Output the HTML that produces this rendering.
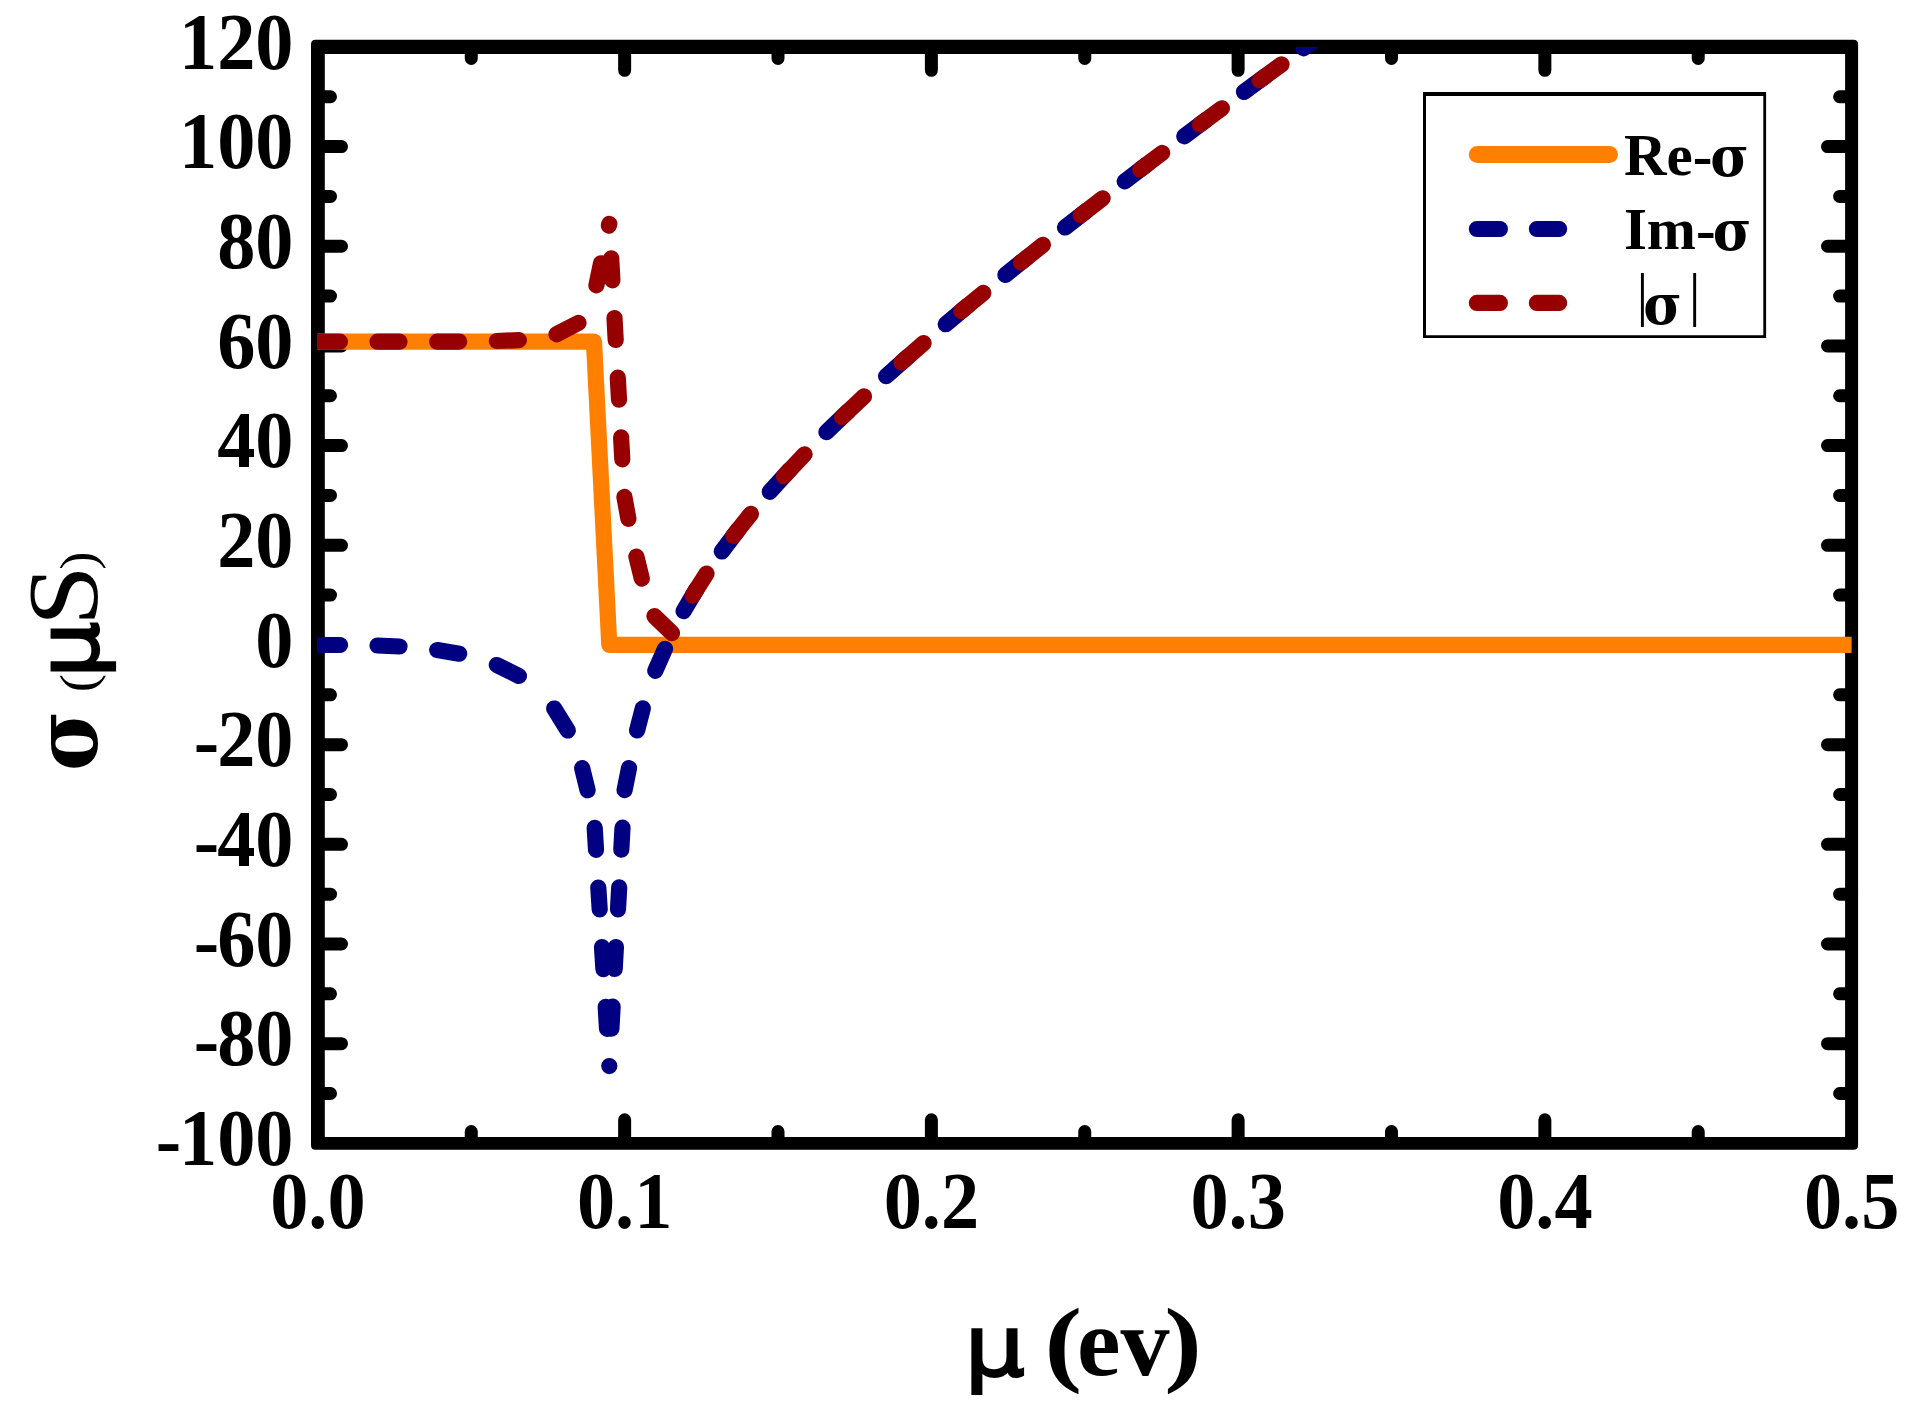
<!DOCTYPE html>
<html><head><meta charset="utf-8"><title>sigma vs mu</title>
<style>html,body{margin:0;padding:0;background:#fff;overflow:hidden}svg{display:block}text{font-family:"Liberation Serif","DejaVu Serif",serif;font-weight:bold;fill:#000}</style></head><body>
<svg width="1929" height="1414" viewBox="0 0 1929 1414">
<rect width="1929" height="1414" fill="#fff"/>
<defs><clipPath id="c"><rect x="317.05" y="47.00" width="1535.95" height="1097.00"/></clipPath></defs>
<path fill="#000" fill-rule="evenodd" d="M315.50 39.85H1853.60Q1858.10 39.85 1858.10 44.35V1145.20Q1858.10 1149.70 1853.60 1149.70H315.50Q311.00 1149.70 311.00 1145.20V44.35Q311.00 39.85 315.50 39.85Z M324.80 53.95H1845.10V1137.00H324.80Z"/>
<path d="M471.27 1142.35V1131.50M471.27 46.90V58.50M624.64 1142.35V1119.80M624.64 46.90V70.30M778.01 1142.35V1131.50M778.01 46.90V58.50M931.38 1142.35V1119.80M931.38 46.90V70.30M1084.75 1142.35V1131.50M1084.75 46.90V58.50M1238.12 1142.35V1119.80M1238.12 46.90V70.30M1391.49 1142.35V1131.50M1391.49 46.90V58.50M1544.86 1142.35V1119.80M1544.86 46.90V70.30M1698.23 1142.35V1131.50M1698.23 46.90V58.50M317.90 1093.51H330.50M1851.60 1093.51H1839.60M317.90 1043.67H341.50M1851.60 1043.67H1827.50M317.90 993.83H330.50M1851.60 993.83H1839.60M317.90 944.00H341.50M1851.60 944.00H1827.50M317.90 894.16H330.50M1851.60 894.16H1839.60M317.90 844.32H341.50M1851.60 844.32H1827.50M317.90 794.48H330.50M1851.60 794.48H1839.60M317.90 744.64H341.50M1851.60 744.64H1827.50M317.90 694.80H330.50M1851.60 694.80H1839.60M317.90 644.96H341.50M1851.60 644.96H1827.50M317.90 595.12H330.50M1851.60 595.12H1839.60M317.90 545.29H341.50M1851.60 545.29H1827.50M317.90 495.45H330.50M1851.60 495.45H1839.60M317.90 445.61H341.50M1851.60 445.61H1827.50M317.90 395.77H330.50M1851.60 395.77H1839.60M317.90 345.93H341.50M1851.60 345.93H1827.50M317.90 296.09H330.50M1851.60 296.09H1839.60M317.90 246.25H341.50M1851.60 246.25H1827.50M317.90 196.42H330.50M1851.60 196.42H1839.60M317.90 146.58H341.50M1851.60 146.58H1827.50M317.90 96.74H330.50M1851.60 96.74H1839.60" stroke="#000" stroke-width="13.00" stroke-linecap="round" fill="none"/>
<text transform="translate(291.5 1165.0) scale(1 1.040)" font-size="76.3" text-anchor="end"><tspan dx="2" dy="1.9">-</tspan><tspan dx="-2" dy="-1.9">100</tspan></text>
<text transform="translate(291.5 1065.4) scale(1 1.040)" font-size="76.3" text-anchor="end"><tspan dx="2" dy="1.9">-</tspan><tspan dx="-2" dy="-1.9">80</tspan></text>
<text transform="translate(291.5 965.7) scale(1 1.040)" font-size="76.3" text-anchor="end"><tspan dx="2" dy="1.9">-</tspan><tspan dx="-2" dy="-1.9">60</tspan></text>
<text transform="translate(291.5 866.0) scale(1 1.040)" font-size="76.3" text-anchor="end"><tspan dx="2" dy="1.9">-</tspan><tspan dx="-2" dy="-1.9">40</tspan></text>
<text transform="translate(291.5 766.3) scale(1 1.040)" font-size="76.3" text-anchor="end"><tspan dx="2" dy="1.9">-</tspan><tspan dx="-2" dy="-1.9">20</tspan></text>
<text transform="translate(293.5 666.7) scale(1 1.040)" font-size="76.3" text-anchor="end">0</text>
<text transform="translate(293.5 567.0) scale(1 1.040)" font-size="76.3" text-anchor="end">20</text>
<text transform="translate(293.5 467.3) scale(1 1.040)" font-size="76.3" text-anchor="end">40</text>
<text transform="translate(293.5 367.6) scale(1 1.040)" font-size="76.3" text-anchor="end">60</text>
<text transform="translate(293.5 268.0) scale(1 1.040)" font-size="76.3" text-anchor="end">80</text>
<text transform="translate(293.5 168.3) scale(1 1.040)" font-size="76.3" text-anchor="end">100</text>
<text transform="translate(293.5 68.6) scale(1 1.040)" font-size="76.3" text-anchor="end">120</text>
<text transform="translate(317.9 1228.4) scale(1 1.040)" font-size="76.3" text-anchor="middle">0.0</text>
<text transform="translate(624.6 1228.4) scale(1 1.040)" font-size="76.3" text-anchor="middle">0.1</text>
<text transform="translate(931.4 1228.4) scale(1 1.040)" font-size="76.3" text-anchor="middle">0.2</text>
<text transform="translate(1238.1 1228.4) scale(1 1.040)" font-size="76.3" text-anchor="middle">0.3</text>
<text transform="translate(1544.9 1228.4) scale(1 1.040)" font-size="76.3" text-anchor="middle">0.4</text>
<text transform="translate(1851.6 1228.4) scale(1 1.040)" font-size="76.3" text-anchor="middle">0.5</text>
<text y="1374.5" font-size="98"><tspan x="964.5" y="1376" font-family="DejaVu Sans,Liberation Sans,sans-serif" font-weight="normal" font-size="85" stroke="#000" stroke-width="2.2" textLength="60.7" lengthAdjust="spacingAndGlyphs">μ</tspan> <tspan x="1044.5" y="1373.6" font-size="94.4" textLength="37.6" lengthAdjust="spacingAndGlyphs">(</tspan><tspan x="1077.1" y="1374.5">ev</tspan><tspan x="1164.2" y="1373.6" font-size="94.4" textLength="37.6" lengthAdjust="spacingAndGlyphs">)</tspan></text>
<text transform="translate(98 645) rotate(-90)" font-size="98"><tspan x="-126" y="-1.2" font-family="DejaVu Serif,Liberation Serif,serif" font-size="88.2" textLength="60.55" lengthAdjust="spacingAndGlyphs">σ</tspan> <tspan x="-47.2" y="-2.8" font-size="50.7" font-weight="normal" textLength="18.2" lengthAdjust="spacingAndGlyphs">(</tspan><tspan x="-32.8" y="0" font-family="DejaVu Sans,Liberation Sans,sans-serif" font-weight="normal" font-size="84" stroke="#000" stroke-width="2.2" textLength="56.25" lengthAdjust="spacingAndGlyphs">μ</tspan><tspan x="18.9" y="-2.4" font-size="100" font-weight="normal" textLength="60.8" lengthAdjust="spacingAndGlyphs">S</tspan><tspan x="75.35" y="-2.8" font-size="50.7" font-weight="normal" textLength="18.2" lengthAdjust="spacingAndGlyphs">)</tspan></text>
<g clip-path="url(#c)" fill="none" stroke-width="16.2" stroke-linejoin="round">
<polyline points="317.90,341.70 333.24,341.70 348.57,341.70 363.91,341.70 379.25,341.70 394.58,341.70 409.92,341.70 425.26,341.70 440.60,341.70 455.93,341.70 471.27,341.70 486.61,341.70 501.94,341.70 517.28,341.70 532.62,341.70 547.95,341.70 563.29,341.70 578.63,341.70 593.97,341.70 609.30,644.96 624.64,644.96 639.98,644.96 655.31,644.96 670.65,644.96 685.99,644.96 701.32,644.96 716.66,644.96 732.00,644.96 747.34,644.96 762.67,644.96 778.01,644.96 793.35,644.96 808.68,644.96 824.02,644.96 839.36,644.96 854.69,644.96 870.03,644.96 885.37,644.96 900.71,644.96 916.04,644.96 931.38,644.96 946.72,644.96 962.05,644.96 977.39,644.96 992.73,644.96 1008.06,644.96 1023.40,644.96 1038.74,644.96 1054.08,644.96 1069.41,644.96 1084.75,644.96 1100.09,644.96 1115.42,644.96 1130.76,644.96 1146.10,644.96 1161.43,644.96 1176.77,644.96 1192.11,644.96 1207.45,644.96 1222.78,644.96 1238.12,644.96 1253.46,644.96 1268.79,644.96 1284.13,644.96 1299.47,644.96 1314.80,644.96 1330.14,644.96 1345.48,644.96 1360.82,644.96 1376.15,644.96 1391.49,644.96 1406.83,644.96 1422.16,644.96 1437.50,644.96 1452.84,644.96 1468.17,644.96 1483.51,644.96 1498.85,644.96 1514.19,644.96 1529.52,644.96 1544.86,644.96 1560.20,644.96 1575.53,644.96 1590.87,644.96 1606.21,644.96 1621.54,644.96 1636.88,644.96 1652.22,644.96 1667.56,644.96 1682.89,644.96 1698.23,644.96 1713.57,644.96 1728.90,644.96 1744.24,644.96 1759.58,644.96 1774.91,644.96 1790.25,644.96 1805.59,644.96 1820.93,644.96 1836.26,644.96 1851.60,644.96" stroke="#FF8000"/>
<path d="M317.9 645.0L339.9 645.0M377.5 645.5L399.5 646.5M437.2 650.0L459.2 653.7M496.8 665.0L518.9 675.9M554.2 708.5L567.8 730.5M582.2 768.2L587.6 790.2M594.7 827.8L596.0 849.8M598.3 887.5L599.7 909.5M602.0 947.1L603.4 969.1M605.7 1006.8L607.0 1028.8M609.3 1066.1L609.3 1066.1M611.4 1028.7L612.6 1006.7M614.7 969.0L615.9 947.0M618.0 909.4L619.2 887.4M621.3 849.7L622.5 827.7M624.6 790.1L629.0 768.1M637.1 730.4L642.8 708.4M655.3 670.8L665.0 648.8M683.6 611.1L696.5 589.1M721.8 551.5L738.4 529.5M769.8 491.8L789.8 469.8M826.4 432.2L848.4 411.0M886.1 376.2L908.1 356.6M945.7 324.2L967.7 305.8M1005.4 274.9L1027.4 257.2M1065.0 227.5L1087.0 210.3M1124.7 181.4L1146.7 164.6M1184.3 136.3L1206.3 119.8M1244.0 91.9L1266.0 75.8M1303.6 48.3L1325.6 32.3" stroke="#000080" stroke-linecap="round"/>
<path d="M317.9 341.7L339.9 341.7M377.5 341.7L399.5 341.7M437.2 341.7L459.2 341.6M496.8 341.0L518.9 340.1M556.5 334.3L578.5 322.9M596.4 285.3L601.0 263.3M608.9 225.6L609.3 223.8M611.2 258.3L612.4 280.3M614.5 318.0L615.7 340.0M617.8 377.6L619.0 399.6M621.1 437.3L622.3 459.3M624.4 496.9L628.4 518.9M636.4 556.6L641.8 578.6M654.4 616.2L672.0 633.2M692.6 595.6L706.5 573.6M733.3 535.9L750.9 513.9M783.9 476.3L804.6 454.3M842.0 417.1L864.0 396.4M901.6 362.3L923.6 343.1M961.3 311.1L983.3 292.9M1020.9 262.4L1042.9 244.9M1080.6 215.3L1102.6 198.3M1140.2 169.5L1162.2 152.9M1199.9 124.6L1221.9 108.3M1259.5 80.5L1281.5 64.4M1319.2 36.9L1341.2 21.0" stroke="#960000" stroke-linecap="round"/>
</g>
<path fill="#000" fill-rule="evenodd" d="M1423 92H1766.1V338.1H1423ZM1426 96H1763.3V335.2H1426Z"/>
<g fill="none" stroke-linecap="round">
<path d="M1477.3 154.4H1609.5" stroke="#FF8000" stroke-width="17"/>
<path d="M1476.9 229h23M1536.9 229h22.2" stroke="#000080" stroke-width="16.2"/>
<path d="M1476.9 302.9h23M1536.9 302.9h22.2" stroke="#960000" stroke-width="16.2"/>
</g>
<g font-size="59">
<text x="1624" y="175">Re-<tspan x="1710.25" y="175.9" font-family="DejaVu Serif,Liberation Serif,serif" font-size="55.5" textLength="38.7" lengthAdjust="spacingAndGlyphs">σ</tspan></text>
<text x="1623.9" y="249">Im-<tspan x="1712.75" y="250.3" font-family="DejaVu Serif,Liberation Serif,serif" font-size="55.5" textLength="38.7" lengthAdjust="spacingAndGlyphs">σ</tspan></text>
<text y="313.9" xml:space="preserve"><tspan x="1636.6" font-weight="normal">|</tspan><tspan x="1643.25" y="324.2" font-family="DejaVu Serif,Liberation Serif,serif" font-size="55.5" textLength="38.7" lengthAdjust="spacingAndGlyphs">σ</tspan> <tspan x="1688.7" y="313.9" font-weight="normal">|</tspan></text>
</g>
</svg></body></html>
